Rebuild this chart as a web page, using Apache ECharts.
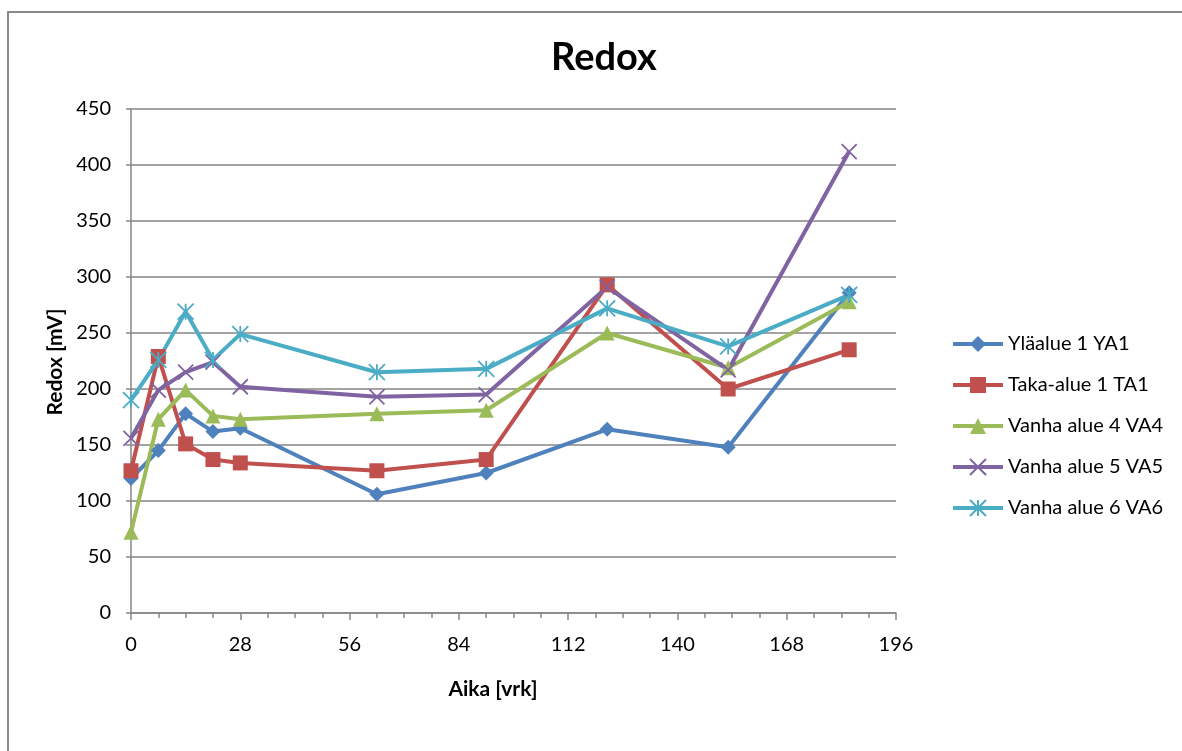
<!DOCTYPE html>
<html>
<head>
<meta charset="utf-8">
<script src="https://cdn.jsdelivr.net/npm/echarts@6/dist/echarts.min.js"></script>
<style>
  html, body { margin: 0; padding: 0; background: #fff; }
  #chart { width: 1182px; height: 751px; }
</style>
</head>
<body>
<div id="chart"></div>
<script>
// Sampling days (x) and redox readings in mV for each area
const days = [0, 7, 14, 21, 28, 63, 91, 122, 153, 184];
const ya1 = [120, 145, 178, 162, 165, 106, 125, 164, 148, 286];
const ta1 = [127, 229, 151, 137, 134, 127, 137, 293, 200, 235];
const va4 = [72, 173, 199, 176, 173, 178, 181, 250, 219, 278];
const va5 = [156, 199, 215, 224, 202, 193, 195, 291, 217, 412];
const va6 = [190, 226, 269, 226, 249, 215, 218, 272, 238, 284];

const seriesNames = ['Yläalue 1 YA1', 'Taka-alue 1 TA1', 'Vanha alue 4 VA4', 'Vanha alue 5 VA5', 'Vanha alue 6 VA6'];
const xTicks = { min: 0, max: 196, step: 28 };
const yTicks = { min: 0, max: 450, step: 50 };

const FONT = 'Lato, "Open Sans", sans-serif';
const colors = ['#4F81BD', '#C0504D', '#9BBB59', '#8064A2', '#4BACC6'];
const crossPath = 'path://M0,0L10,10M10,0L0,10';
const starPath = 'path://M0,0L10,10M10,0L0,10M5,0L5,10';

function pairs(values) {
  return days.map((d, i) => [d, values[i]]);
}

function lineSeries(name, values, color, symbol, size, stroked) {
  return {
    name: name,
    type: 'line',
    data: pairs(values),
    symbol: symbol,
    symbolSize: size,
    lineStyle: { color: color, width: 4 },
    itemStyle: stroked
      ? { color: 'rgba(0,0,0,0)', borderColor: color, borderWidth: 1.8 }
      : { color: color, borderColor: color, borderWidth: 0 },
    emphasis: { disabled: true },
    z: 3
  };
}

const chart = echarts.init(document.getElementById('chart'), null, { renderer: 'canvas' });

chart.setOption({
  animation: false,
  backgroundColor: '#ffffff',
  color: colors,
  title: {
    text: 'Redox',
    left: 599,
    top: 34,
    textAlign: 'center',
    textStyle: { fontFamily: FONT, fontWeight: 'bold', fontSize: 38, color: '#000' }
  },
  grid: { left: 131, top: 109, right: 286, bottom: 138, containLabel: false },
  legend: {
    orient: 'vertical',
    left: 946,
    top: 329,
    itemWidth: 50,
    itemHeight: 20,
    itemGap: 21,
    data: seriesNames,
    lineStyle: { width: 4 },
    textStyle: { fontFamily: FONT, fontSize: 20, color: '#000', lineHeight: 20 }
  },
  xAxis: {
    type: 'value',
    min: xTicks.min,
    max: xTicks.max,
    interval: xTicks.step,
    axisLine: { show: true, lineStyle: { color: '#868686', width: 1.5 } },
    axisTick: { show: true, length: 7, lineStyle: { color: '#868686', width: 1.5 } },
    minorTick: { show: true, splitNumber: 4, length: 5, lineStyle: { color: '#868686', width: 1.5 } },
    splitLine: { show: false },
    axisLabel: { fontFamily: FONT, fontSize: 20, color: '#000', margin: 22 }
  },
  yAxis: {
    type: 'value',
    min: yTicks.min,
    max: yTicks.max,
    interval: yTicks.step,
    axisLine: { show: true, lineStyle: { color: '#868686', width: 1.5 } },
    axisTick: { show: true, length: 5, lineStyle: { color: '#868686', width: 1.5 } },
    splitLine: { show: true, lineStyle: { color: '#868686', width: 1.5 } },
    axisLabel: { fontFamily: FONT, fontSize: 20, color: '#000', margin: 20 }
  },
  series: [
    lineSeries(seriesNames[0], ya1, colors[0], 'diamond', 15, false),
    lineSeries(seriesNames[1], ta1, colors[1], 'rect', 15, false),
    lineSeries(seriesNames[2], va4, colors[2], 'triangle', 15, false),
    lineSeries(seriesNames[3], va5, colors[3], crossPath, 15, true),
    lineSeries(seriesNames[4], va6, colors[4], starPath, 16, true)
  ],
  graphic: [
    {
      type: 'rect',
      shape: { x: 8, y: 12, width: 1400, height: 1000 },
      style: { fill: 'none', stroke: '#8a8a8a', lineWidth: 2 },
      silent: true
    },
    {
      type: 'text',
      x: 493,
      y: 689,
      style: {
        text: 'Aika [vrk]',
        font: 'bold 21px ' + FONT,
        fill: '#000',
        align: 'center',
        verticalAlign: 'middle'
      }
    },
    {
      type: 'text',
      x: 55,
      y: 362,
      rotation: Math.PI / 2,
      style: {
        text: 'Redox [mV]',
        font: 'bold 21px ' + FONT,
        fill: '#000',
        align: 'center',
        verticalAlign: 'middle'
      }
    }
  ]
});
</script>
</body>
</html>
